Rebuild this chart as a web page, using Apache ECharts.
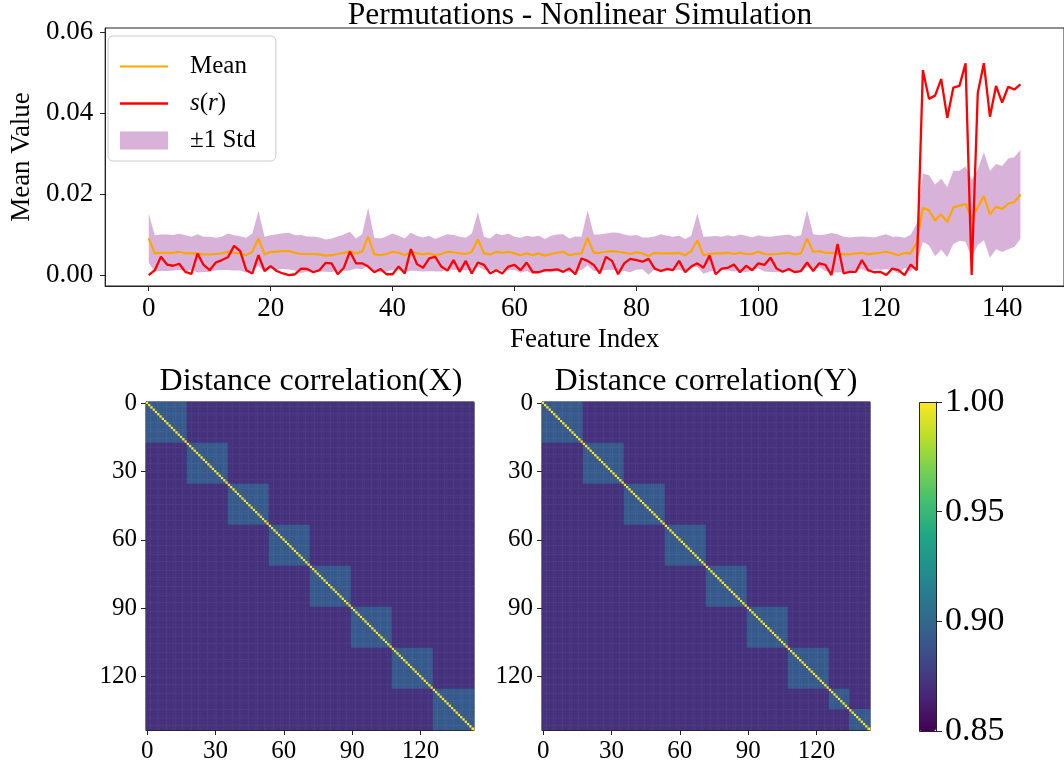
<!DOCTYPE html>
<html>
<head>
<meta charset="utf-8">
<script src="https://cdn.jsdelivr.net/npm/echarts@6/dist/echarts.min.js"></script>
<style>
  html, body { margin: 0; padding: 0; background: #ffffff; }
  #chart { width: 1064px; height: 768px; }
</style>
</head>
<body>
<div id="chart"></div>
<script>
// ---- data ----
const featureCount = 144;

// permutation mean of the importance score per feature
const meanValue = [
  0.00905,
  0.00535,0.0055,0.0055,0.0055,0.00575,0.00535,0.00535,0.00535,0.0051,0.0051,0.0052,0.00535,0.00575,0.0055,0.00535,0.0049,0.00575,
  0.00905,
  0.0051,0.00575,0.00575,0.0059,0.0059,0.0055,0.0052,0.0052,0.0052,0.0051,0.0048,0.0049,0.0052,0.0055,0.0059,0.00535,0.00575,
  0.0095,
  0.0051,0.0049,0.0052,0.00575,0.0055,0.0049,0.00575,0.00535,0.0051,0.00535,0.0049,0.0052,0.00575,0.0056,0.00535,0.0052,0.00575,
  0.0088,
  0.00535,0.0051,0.00575,0.0055,0.00575,0.00535,0.0049,0.00535,0.0049,0.00535,0.0048,0.0052,0.0055,0.00575,0.0049,0.0052,0.00535,
  0.0092,
  0.0055,0.0055,0.00575,0.0059,0.00575,0.0055,0.0052,0.0056,0.00535,0.0047,0.0055,0.00535,0.00535,0.00535,0.0055,0.0049,0.0059,
  0.0086,
  0.0049,0.0052,0.00535,0.00535,0.0055,0.0052,0.0055,0.0052,0.0052,0.00575,0.0052,0.0051,0.0052,0.00535,0.0055,0.0051,0.00535,
  0.00905,
  0.00575,0.0059,0.0055,0.0055,0.00535,0.0051,0.0051,0.00535,0.0055,0.0051,0.00535,0.0055,0.00575,0.00535,0.0049,0.0055,0.00535,
  0.0080,
  0.0166,0.0160,0.0135,0.0150,0.0131,0.0167,0.0171,0.0175,0.0139,0.0167,0.0195,0.0150,0.0169,0.0163,0.0176,0.0180,0.0199
];

// permutation standard deviation per feature
const stdValue = [
  0.0060,
  0.0045,0.0045,0.0045,0.0044,0.00445,0.0045,0.0041,0.0047,0.00435,0.00435,0.0040,0.0041,0.0045,0.00435,0.00425,0.0043,0.0045,
  0.00675,
  0.00435,0.0041,0.0043,0.0044,0.00455,0.00435,0.0047,0.0043,0.0043,0.0042,0.0040,0.00415,0.0043,0.0045,0.0048,0.0037,0.0043,
  0.0071,
  0.0041,0.00415,0.0043,0.0045,0.0042,0.00415,0.0047,0.00435,0.0042,0.00435,0.0040,0.0043,0.0043,0.0043,0.0041,0.0040,0.0045,
  0.0067,
  0.0041,0.00395,0.0045,0.00435,0.0045,0.0041,0.0043,0.00435,0.00455,0.00435,0.0041,0.0045,0.0045,0.0043,0.00415,0.0043,0.0041,
  0.0068,
  0.0045,0.0045,0.0045,0.0046,0.0047,0.0045,0.0045,0.0043,0.0039,0.0046,0.0040,0.0047,0.00435,0.0041,0.0042,0.0040,0.0038,
  0.0066,
  0.00455,0.0043,0.0043,0.0041,0.00435,0.0043,0.0045,0.0045,0.0041,0.0041,0.0043,0.00435,0.0045,0.0045,0.0045,0.00435,0.0045,
  0.0070,
  0.0043,0.0040,0.0045,0.0049,0.0047,0.00435,0.0042,0.0041,0.0040,0.00435,0.00395,0.0042,0.0043,0.0041,0.0046,0.0037,0.0046,
  0.0048,
  0.00845,0.00865,0.00885,0.00875,0.00865,0.00905,0.00865,0.0093,0.0097,0.00925,0.0109,0.0107,0.0105,0.0106,0.0112,0.0111,0.0110
];

// s(r) statistic per feature
const srValue = [
  0.0,0.0012,0.0045,0.0026,0.0023,0.0028,0.0008,0.0003,0.0053,0.0025,0.0012,0.0031,0.0037,0.0044,0.0072,0.0059,0.0012,0.0004,
  0.0049,0.0010,0.0022,0.0010,0.0004,0.0,0.0002,0.0016,0.0015,0.0007,0.0012,0.0030,0.0029,0.0002,0.0018,0.0058,0.0029,0.0029,
  0.0021,0.0007,0.0015,0.0002,0.0002,0.0021,0.0004,0.0064,0.0027,0.0018,0.0041,0.0045,0.0021,0.0011,0.0037,0.0008,0.0035,0.0004,
  0.0031,0.0025,0.0004,0.0012,0.0004,0.0021,0.0025,0.0012,0.0031,0.0007,0.0007,0.0012,0.0012,0.0014,0.0008,0.0016,0.0002,0.0041,
  0.0035,0.0025,0.0004,0.0045,0.0035,0.0002,0.0029,0.0040,0.0037,0.0033,0.0040,0.0016,0.0010,0.0015,0.0012,0.0035,0.0007,0.0021,
  0.0029,0.0018,0.0048,0.0002,0.0016,0.0018,0.0026,0.0007,0.0023,0.0012,0.0029,0.0025,0.0043,0.0016,0.0008,0.0015,0.0007,0.0010,
  0.0031,0.0010,0.0029,0.0025,0.0,0.0077,0.0004,0.0008,0.0008,0.0037,0.0012,0.0007,0.0008,0.0,0.0016,0.0012,0.0,0.0026,
  0.0012,0.0506,0.0435,0.0443,0.0484,0.0388,0.0463,0.0467,0.0523,0.0,0.0449,0.0523,0.0391,0.0467,0.0426,0.0465,0.0458,0.0471
];

const lineXTicks = [0, 20, 40, 60, 80, 100, 120, 140];
const lineYTicks = [0, 0.02, 0.04, 0.06];
const heatTicks = [0, 30, 60, 90, 120];
const cbarTicks = [0.85, 0.90, 0.95, 1.00];

// correlated feature groups [start, end) for X and Y
const groupsX = [[0,18],[18,36],[36,54],[54,72],[72,90],[90,108],[108,126],[126,144]];
const groupsY = [[0,18],[18,36],[36,54],[54,72],[72,90],[90,108],[108,126],[126,135],[135,144]];
const corrOutside = 0.871;
const corrInside = 0.892;
const corrSelf = 1.0;

const viridis = ['#440154','#482475','#414487','#355f8d','#2a788e','#21918c',
                 '#22a884','#44bf70','#7ad151','#bddf26','#fde725'];

// ---- derived series ----
const idx = Array.from({ length: featureCount }, (_, i) => i);
const featureLabels = idx.map(String);
const bandRows = idx.map(i => [i, meanValue[i] - stdValue[i], meanValue[i] + stdValue[i]]);

function corrMatrix(groups) {
  const groupOf = new Array(featureCount).fill(-1);
  groups.forEach((g, k) => { for (let i = g[0]; i < g[1]; i++) groupOf[i] = k; });
  const out = [];
  for (let r = 0; r < featureCount; r++) {
    for (let c = 0; c < featureCount; c++) {
      let v = corrOutside;
      if (r === c) v = corrSelf;
      else if (groupOf[r] === groupOf[c]) v = corrInside;
      out.push([c, r, v]);
    }
  }
  return out;
}

const FONT = 'Liberation Serif';
const AXIS_COLOR = '#222';
const BAND_COLOR = 'rgba(128,0,128,0.3)';

function heatAxis(grid, isY) {
  const ax = {
    gridIndex: grid,
    type: 'category',
    data: featureLabels,
    boundaryGap: true,
    axisLine: { show: true, onZero: false, lineStyle: { color: AXIS_COLOR } },
    axisTick: { show: true, length: 5, alignWithLabel: true,
                interval: (i) => heatTicks.includes(i), lineStyle: { color: AXIS_COLOR } },
    axisLabel: { interval: (i) => heatTicks.includes(i), color: '#000',
                 fontFamily: FONT, fontSize: 25, margin: 9 },
    splitLine: { show: false },
    splitArea: { show: false }
  };
  if (isY) ax.inverse = true;
  return ax;
}

// shaded ±1 std band drawn as one polygon through the axis scales
function renderBand(params, api) {
  if (params.dataIndex !== 0) return null;
  const pts = [];
  for (let k = 0; k < bandRows.length; k++) pts.push(api.coord([bandRows[k][0], bandRows[k][2]]));
  for (let k = bandRows.length - 1; k >= 0; k--) pts.push(api.coord([bandRows[k][0], bandRows[k][1]]));
  return { type: 'polygon', shape: { points: pts }, style: { fill: BAND_COLOR, stroke: null } };
}

const chart = echarts.init(document.getElementById('chart'), null, { renderer: 'canvas' });

const titleStyle = (size) => ({ fontFamily: FONT, fontSize: size, fontWeight: 'normal', color: '#000' });

const option = {
  animation: false,
  backgroundColor: '#ffffff',
  textStyle: { fontFamily: FONT },
  title: [
    { text: 'Permutations - Nonlinear Simulation', left: 580, top: 0, textAlign: 'center', padding: 0,
      textStyle: titleStyle(31.5) },
    { text: 'Distance correlation(X)', left: 311, top: 366, textAlign: 'center', padding: 0,
      textStyle: titleStyle(32) },
    { text: 'Distance correlation(Y)', left: 706, top: 366, textAlign: 'center', padding: 0,
      textStyle: titleStyle(32) }
  ],
  legend: {
    left: 108, top: 36, orient: 'vertical',
    padding: [18, 20, 8, 12],
    itemGap: 12,
    itemWidth: 48, itemHeight: 18,
    backgroundColor: '#fff',
    borderColor: '#cccccc', borderWidth: 1, borderRadius: 5,
    selectedMode: false,
    textStyle: {
      fontFamily: FONT, fontSize: 25, color: '#000', padding: [0, 0, 0, 17],
      rich: { it: { fontFamily: FONT, fontSize: 25, fontStyle: 'italic', color: '#000' } }
    },
    formatter: (name) => name === 's(r)' ? '{it|s}({it|r})' : name,
    data: [
      { name: 'Mean', icon: 'path://M0,0H48V2H0Z', itemStyle: { color: '#ffa500' } },
      { name: 's(r)', icon: 'path://M0,0H48V2.3H0Z', itemStyle: { color: '#ff0000' } },
      { name: '±1 Std', icon: 'rect', itemStyle: { color: BAND_COLOR } }
    ]
  },
  grid: [
    { left: 97, top: 28, width: 967, height: 258, show: true, borderColor: AXIS_COLOR, borderWidth: 1 },
    { left: 146, top: 402, width: 328, height: 328, show: true, borderColor: AXIS_COLOR, borderWidth: 1 },
    { left: 542, top: 402, width: 328, height: 328, show: true, borderColor: AXIS_COLOR, borderWidth: 1 },
    { left: 919, top: 402, width: 17, height: 329, show: false }
  ],
  xAxis: [
    {
      gridIndex: 0, type: 'value', min: -7.15, max: 150.15,
      name: 'Feature Index', nameLocation: 'middle', nameGap: 40,
      nameTextStyle: { fontFamily: FONT, fontSize: 27, color: '#000' },
      axisLine: { show: true, onZero: false, lineStyle: { color: AXIS_COLOR, width: 1 } },
      axisTick: { show: true, length: 5, customValues: lineXTicks, lineStyle: { color: AXIS_COLOR } },
      axisLabel: { customValues: lineXTicks, color: '#000', fontFamily: FONT, fontSize: 27, margin: 9 },
      splitLine: { show: false }
    },
    heatAxis(1, false),
    heatAxis(2, false),
    { gridIndex: 3, type: 'value', min: 0, max: 1, show: false }
  ],
  yAxis: [
    {
      gridIndex: 0, type: 'value', min: -0.0027, max: 0.061,
      name: 'Mean Value', nameLocation: 'middle', nameGap: 66,
      nameTextStyle: { fontFamily: FONT, fontSize: 27, color: '#000' },
      axisLine: { show: true, onZero: false, lineStyle: { color: AXIS_COLOR, width: 1 } },
      axisTick: { show: true, length: 5, customValues: lineYTicks, lineStyle: { color: AXIS_COLOR } },
      axisLabel: { customValues: lineYTicks, color: '#000', fontFamily: FONT, fontSize: 27, margin: 12,
                   formatter: (v) => v.toFixed(2) },
      splitLine: { show: false }
    },
    heatAxis(1, true),
    heatAxis(2, true),
    {
      gridIndex: 3, type: 'value', min: 0.85, max: 1.0, position: 'right',
      axisLine: { show: true, onZero: false, lineStyle: { color: AXIS_COLOR } },
      axisTick: { show: true, length: 6, customValues: cbarTicks, lineStyle: { color: AXIS_COLOR } },
      axisLabel: { customValues: cbarTicks, color: '#000', fontFamily: FONT, fontSize: 34, margin: 9,
                   formatter: (v) => v.toFixed(2) },
      splitLine: { show: false }
    }
  ],
  visualMap: {
    type: 'continuous',
    min: 0.85, max: 1.0,
    seriesIndex: [3, 4],
    calculable: false,
    hoverLink: false,
    left: 919, top: 402,
    itemWidth: 17, itemHeight: 329,
    padding: 0,
    inRange: { color: viridis }
  },
  graphic: [
    { type: 'rect', z: 100, silent: true, shape: { x: 919.5, y: 402.5, width: 17, height: 329 },
      style: { fill: 'none', stroke: AXIS_COLOR, lineWidth: 1 } }
  ],
  series: [
    {
      name: '±1 Std', type: 'custom', xAxisIndex: 0, yAxisIndex: 0,
      data: bandRows, encode: { x: 0, y: [1, 2] },
      renderItem: renderBand, itemStyle: { color: BAND_COLOR }, clip: true, silent: true, z: 1
    },
    {
      name: 'Mean', type: 'line', xAxisIndex: 0, yAxisIndex: 0,
      data: idx.map(i => [i, meanValue[i]]),
      symbol: 'none', color: '#ffa500', lineStyle: { color: '#ffa500', width: 2.2 }, z: 2
    },
    {
      name: 's(r)', type: 'line', xAxisIndex: 0, yAxisIndex: 0,
      data: idx.map(i => [i, srValue[i]]),
      symbol: 'none', color: '#ff0000', lineStyle: { color: '#ff0000', width: 2.3 }, z: 3
    },
    {
      name: 'corrX', type: 'heatmap', xAxisIndex: 1, yAxisIndex: 1,
      data: corrMatrix(groupsX), progressive: 0, emphasis: { disabled: true }, silent: true
    },
    {
      name: 'corrY', type: 'heatmap', xAxisIndex: 2, yAxisIndex: 2,
      data: corrMatrix(groupsY), progressive: 0, emphasis: { disabled: true }, silent: true
    }
  ]
};

chart.setOption(option);
</script>
</body>
</html>
